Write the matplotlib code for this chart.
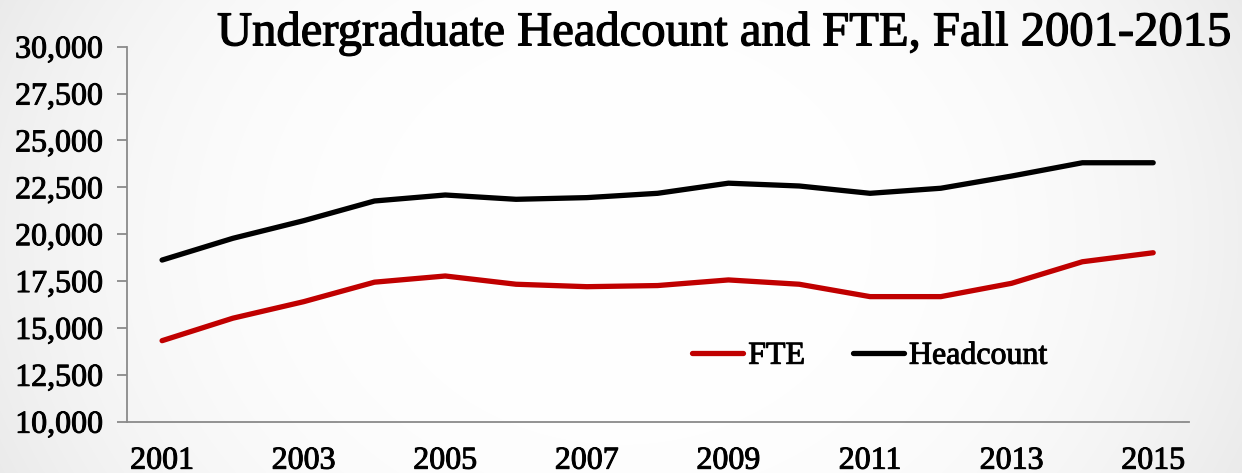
import numpy as np
import matplotlib
matplotlib.use("Agg")
import matplotlib.pyplot as plt
import matplotlib.patheffects as pe
from matplotlib.ticker import FuncFormatter, MultipleLocator

years = list(range(2001, 2016))
headcount = [18620, 19780, 20720, 21770, 22090, 21860, 21950, 22180, 22720,
             22570, 22180, 22450, 23100, 23810, 23810]
fte = [14320, 15520, 16400, 17440, 17770, 17330, 17200, 17260, 17560,
       17330, 16670, 16670, 17380, 18530, 19010]
xtick_years = [2001, 2003, 2005, 2007, 2009, 2011, 2013, 2015]
title = "Undergraduate Headcount and FTE, Fall 2001-2015"

plt.rcParams['font.family'] = ['Liberation Serif', 'DejaVu Serif']

W, H = 1242, 473
fig = plt.figure(figsize=(W / 100, H / 100), dpi=100)

# radial gradient background
bg = fig.add_axes([0, 0, 1, 1], zorder=-10)
yy, xx = np.mgrid[0:H, 0:W]
r = np.sqrt(((xx - W * 0.5) / (W * 0.55)) ** 2 + ((yy - H * 0.5) / (H * 1.2)) ** 2)
val = 1.0 - 0.08 * np.clip(r, 0, 1.2) ** 3
bg.imshow(np.dstack([val, val, val]), aspect='auto', extent=[0, 1, 0, 1])
bg.axis('off')

ax = fig.add_axes([0.102, 0.1085, 0.855, 0.7928])
ax.patch.set_alpha(0)
ax.plot(years, fte, color='#C00000', lw=3.8, label='FTE', solid_capstyle='round', solid_joinstyle='round')
ax.plot(years, headcount, color='black', lw=3.8, label='Headcount', solid_capstyle='round', solid_joinstyle='round')

ax.set_xlim(2000.5, 2015.5)
ax.set_ylim(10000, 30000)
ax.yaxis.set_major_locator(MultipleLocator(2500))
ax.yaxis.set_major_formatter(FuncFormatter(lambda v, p: f"{int(v):,}"))
ax.set_xticks(xtick_years)
ax.set_xticklabels([str(y) for y in xtick_years])

for s in ['top', 'right']:
    ax.spines[s].set_visible(False)
for s in ['left', 'bottom']:
    ax.spines[s].set_color('#8a8a8a')
    ax.spines[s].set_linewidth(1.3)

ax.tick_params(axis='y', direction='out', length=7, width=1.3, color='#8a8a8a',
               labelsize=23, pad=10)
ax.tick_params(axis='x', length=0, labelsize=23, pad=18)

heavy = [pe.withStroke(linewidth=0.7, foreground='black')]
for lbl in ax.get_xticklabels() + ax.get_yticklabels():
    lbl.set_path_effects(heavy)

leg = ax.legend(loc='center', bbox_to_anchor=(0.70, 0.175), ncol=2, frameon=False,
                fontsize=23, handlelength=1.6, handletextpad=0.15, columnspacing=1.5)
for t in leg.get_texts():
    t.set_path_effects(heavy)

fig.text(0.5837, 0.93, title, fontsize=35, ha='center', va='center',
         path_effects=[pe.withStroke(linewidth=0.9, foreground='black')])

fig.savefig('out.png', dpi=100)
